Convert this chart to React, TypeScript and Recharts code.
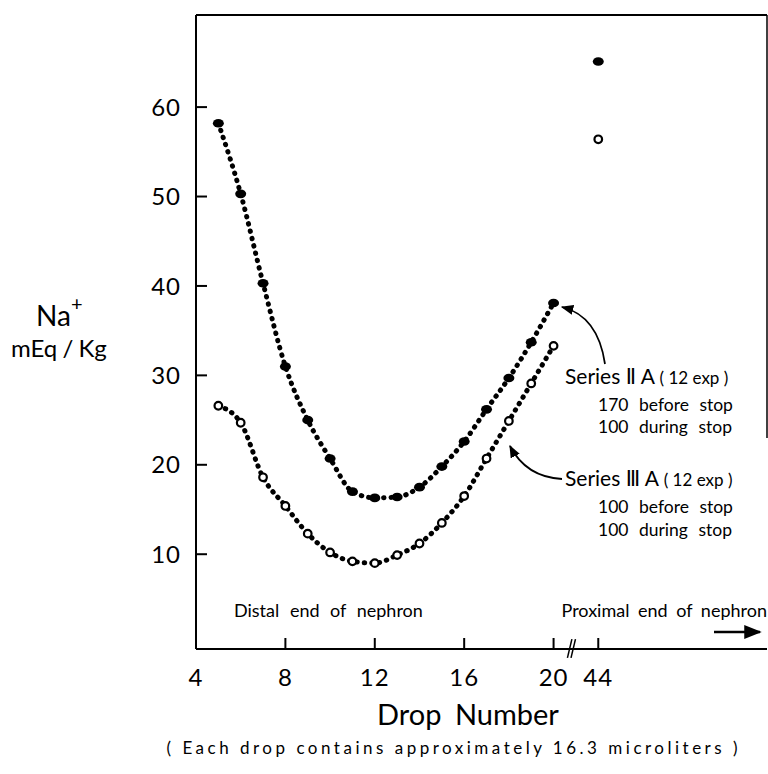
import React from "react";
import { LineChart, Line, XAxis, YAxis, ReferenceLine } from "recharts";

// drop numbers along the nephron (distal -> proximal)
const drops = [5, 6, 7, 8, 9, 10, 11, 12, 13, 14, 15, 16, 17, 18, 19, 20];
// Series II A : 170 before stop, 100 during stop
const seriesIIA = [58.2, 50.3, 40.3, 31.0, 25.0, 20.7, 17.0, 16.3, 16.4, 17.5, 19.8, 22.6, 26.2, 29.7, 33.7, 38.1];
// Series III A : 100 before stop, 100 during stop
const seriesIIIA = [26.6, 24.7, 18.6, 15.4, 12.3, 10.2, 9.2, 9.0, 9.9, 11.2, 13.5, 16.5, 20.7, 24.9, 29.1, 33.3];
// the lone proximal sample after the axis break
const proximalDrop = 44;
const proximalIIA = 65.1;
const proximalIIIA = 56.4;

const xTickLabels = [4, 8, 12, 16, 20, 44];
const yTickLabels = [10, 20, 30, 40, 50, 60];

// axis is broken after 20: drop 44 sits at position 22
const BREAK_AT = 20;
const BREAK_POS = 22;
const toPos = (d: number) => (d > BREAK_AT ? BREAK_POS : d);
const fromPos = (p: number) => (p > BREAK_AT ? proximalDrop : p);

const X_DOMAIN: [number, number] = [4, 29.55];
const Y_DOMAIN: [number, number] = [-0.6, 70.3];

const dataIIA = drops.map((d, i) => ({ x: toPos(d), y: seriesIIA[i] }));
const dataIIIA = drops.map((d, i) => ({ x: toPos(d), y: seriesIIIA[i] }));
const proxIIA = [{ x: toPos(proximalDrop), y: proximalIIA }];
const proxIIIA = [{ x: toPos(proximalDrop), y: proximalIIIA }];

const FONT = "Lato, 'DejaVu Sans', sans-serif";
const W = 768;
const H = 774;

const YTick = (props: any) => {
  const { x, y, payload } = props;
  return (
    <g>
      <line x1={x} x2={x + 11} y1={y} y2={y} stroke="#000" strokeWidth={2} />
      <text x={x - 15} y={y} dy="0.36em" textAnchor="end" fontSize={24} fontFamily={FONT} fill="#000" letterSpacing={1}>
        {payload.value}
      </text>
    </g>
  );
};

const XTick = (props: any) => {
  const { x, y, payload } = props;
  return (
    <g>
      {payload.value !== 4 && <line x1={x} x2={x} y1={y} y2={y - 11} stroke="#000" strokeWidth={2} />}
      <text x={x} y={y + 37} textAnchor="middle" fontSize={24} fontFamily={FONT} fill="#000" letterSpacing={1}>
        {fromPos(payload.value)}
      </text>
    </g>
  );
};

const filledDot = (props: any) => {
  const { cx, cy, index } = props;
  return <ellipse key={`f-${index}`} cx={cx} cy={cy} rx={5.5} ry={4.3} fill="#000" />;
};

const openDot = (props: any) => {
  const { cx, cy, index } = props;
  return <circle key={`o-${index}`} cx={cx} cy={cy} r={3.8} fill="#fff" stroke="#000" strokeWidth={2.2} />;
};

export default function App() {
  return (
    <div style={{ position: "absolute", left: 0, top: 0, width: W, height: H, background: "#fff" }}>
      <LineChart width={W} height={H} margin={{ top: 15, right: 1, bottom: 0, left: 0 }}>
        <XAxis
          type="number"
          dataKey="x"
          domain={X_DOMAIN}
          ticks={xTickLabels.map(toPos)}
          tick={<XTick />}
          tickSize={0}
          tickMargin={0}
          tickLine={false}
          height={125}
          axisLine={{ stroke: "#000", strokeWidth: 2 }}
          allowDataOverflow
        />
        <YAxis
          type="number"
          domain={Y_DOMAIN}
          ticks={yTickLabels}
          tick={<YTick />}
          tickSize={0}
          tickMargin={0}
          tickLine={false}
          width={196}
          axisLine={{ stroke: "#000", strokeWidth: 2 }}
          allowDataOverflow
        />
        <ReferenceLine y={Y_DOMAIN[1]} stroke="#000" strokeWidth={2} />
        <ReferenceLine
          segment={[{ x: X_DOMAIN[1], y: 23 }, { x: X_DOMAIN[1], y: Y_DOMAIN[1] }]}
          stroke="#000"
          strokeWidth={1.5}
        />
        <ReferenceLine
          segment={[{ x: 20.62, y: -1.6 }, { x: 20.82, y: 0.5 }]}
          stroke="#000"
          strokeWidth={1.5}
          ifOverflow="visible"
        />
        <ReferenceLine
          segment={[{ x: 20.78, y: -1.6 }, { x: 20.98, y: 0.5 }]}
          stroke="#000"
          strokeWidth={1.5}
          ifOverflow="visible"
        />
        <Line
          data={dataIIA}
          dataKey="y"
          type="monotone"
          stroke="#000"
          strokeWidth={5}
          strokeDasharray="0.5 7"
          strokeLinecap="round"
          dot={filledDot}
          activeDot={false}
          isAnimationActive={false}
        />
        <Line
          data={dataIIIA}
          dataKey="y"
          type="monotone"
          stroke="#000"
          strokeWidth={5}
          strokeDasharray="0.5 7"
          strokeLinecap="round"
          dot={openDot}
          activeDot={false}
          isAnimationActive={false}
        />
        <Line data={proxIIA} dataKey="y" stroke="none" dot={filledDot} activeDot={false} isAnimationActive={false} />
        <Line data={proxIIIA} dataKey="y" stroke="none" dot={openDot} activeDot={false} isAnimationActive={false} />
      </LineChart>

      <svg
        width={W}
        height={H}
        style={{ position: "absolute", left: 0, top: 0, pointerEvents: "none" }}
        fontFamily={FONT}
      >
        <defs>
          <marker id="head" viewBox="0 0 10 10" refX="9" refY="5" markerWidth="7" markerHeight="7" orient="auto">
            <path d="M0,1 L10,5 L0,9 z" fill="#000" />
          </marker>
        </defs>

        {/* y axis title */}
        <text x={36} y={326} fontSize={28} fill="#000">
          Na
          <tspan dy={-15} fontSize={20}>+</tspan>
        </text>
        <text x={11} y={357} fontSize={24} fill="#000" wordSpacing={-1}>mEq / Kg</text>

        {/* annotations */}
        <text x={565} y={384} fontSize={21} fill="#000">
          Series Ⅱ A <tspan fontSize={17}>( 12 exp )</tspan>
        </text>
        <text x={598} y={411} fontSize={17.5} fill="#000" wordSpacing={6}>170 before stop</text>
        <text x={598} y={433} fontSize={17.5} fill="#000" wordSpacing={6}>100 during stop</text>
        <path d="M605,364 Q598,316 562,307" fill="none" stroke="#000" strokeWidth={1.8} markerEnd="url(#head)" />

        <text x={565} y={486} fontSize={21} fill="#000">
          Series Ⅲ A <tspan fontSize={17}>( 12 exp )</tspan>
        </text>
        <text x={598} y={513} fontSize={17.5} fill="#000" wordSpacing={6}>100 before stop</text>
        <text x={598} y={536} fontSize={17.5} fill="#000" wordSpacing={6}>100 during stop</text>
        <path d="M562,479 Q526,477 510,446" fill="none" stroke="#000" strokeWidth={1.8} markerEnd="url(#head)" />

        <text x={234} y={617} fontSize={18} fill="#000" wordSpacing={6}>Distal end of nephron</text>
        <text x={767} y={617} fontSize={18} fill="#000" wordSpacing={4} textAnchor="end">Proximal end of nephron</text>
        <line x1={714} y1={632} x2={760} y2={632} stroke="#000" strokeWidth={2.5} markerEnd="url(#head)" />

        {/* x axis title and note */}
        <text x={468} y={725} fontSize={29} fill="#000" textAnchor="middle" wordSpacing={6}>Drop Number</text>
        <text x={452} y={754} fontSize={17} fill="#000" textAnchor="middle" textLength={571} lengthAdjust="spacing">
          ( Each drop contains approximately 16.3 microliters )
        </text>
      </svg>
    </div>
  );
}
